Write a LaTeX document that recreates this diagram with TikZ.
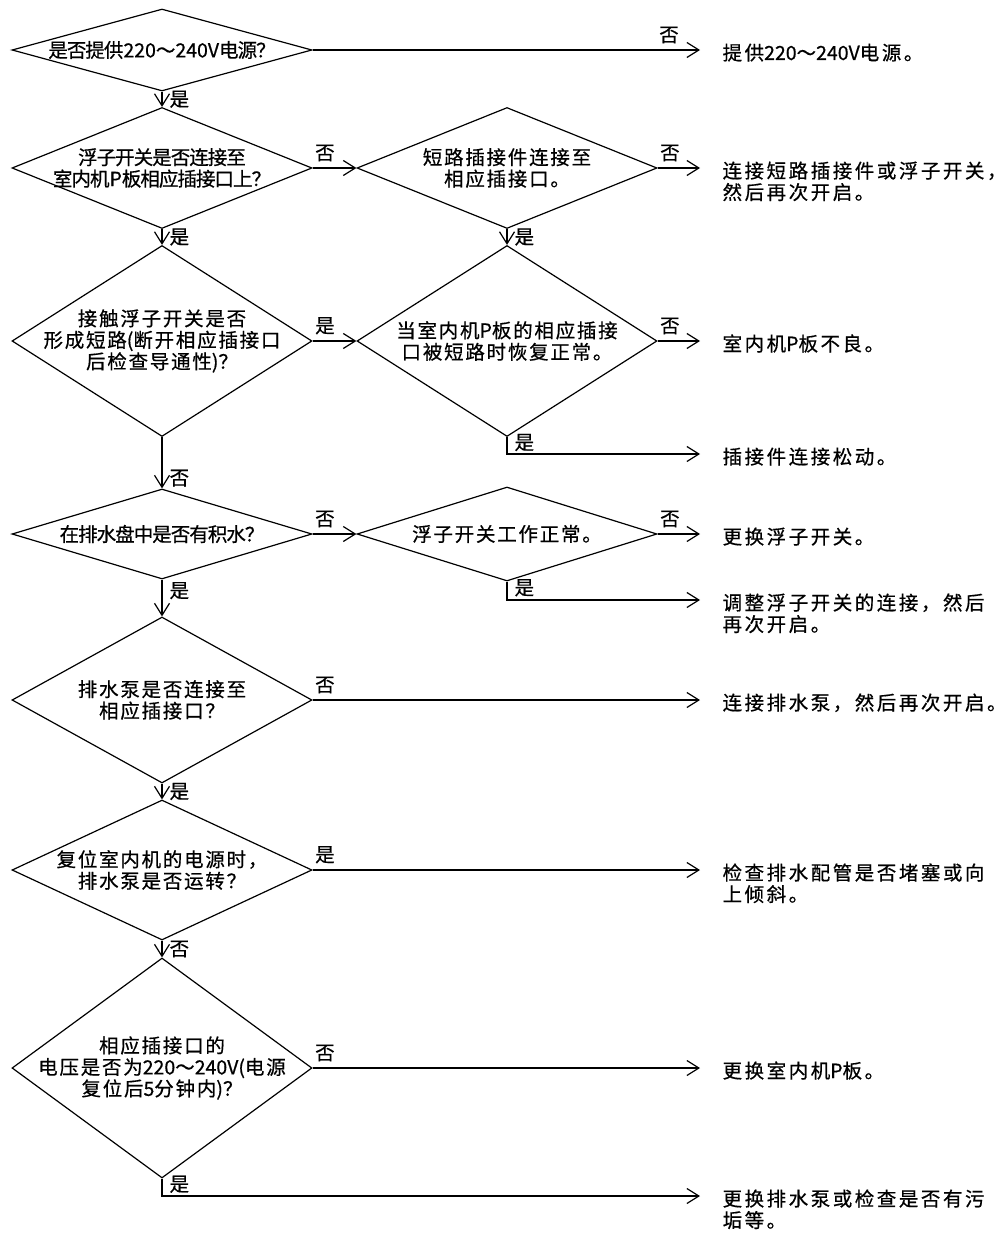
\documentclass[tikz,border=0pt]{standalone}
\usepackage{fontspec}
\setmainfont[FakeBold=0.6]{Noto Sans CJK SC}
\newfontfamily\cjkwide[LetterSpace=9,FakeBold=0.6]{Noto Sans CJK SC}
\newfontfamily\cjkwider[LetterSpace=13,FakeBold=0.6]{Noto Sans CJK SC}
\newfontfamily\cjknarrow[LetterSpace=-5,FakeBold=0.6]{Noto Sans CJK SC}
\newfontfamily\cjkplain[FakeBold=0.6]{Noto Sans CJK SC}
\newcommand\numtxt[1]{{\cjkplain#1}}
\usetikzlibrary{shapes.geometric,arrows.meta}
\tikzset{
  dia/.style={diamond, draw, inner sep=0pt, minimum width=300},
  qtext/.style={align=center, inner sep=0pt, font=\cjkwide\fontsize{19.5}{21.5}\selectfont},
  qnarrow/.style={qtext, font=\cjknarrow\fontsize{19.5}{21.5}\selectfont},
  res/.style={align=left, anchor=base west, inner sep=0pt, font=\cjkwider\fontsize{19.5}{21.5}\selectfont},
  yn/.style={inner sep=2pt, font=\fontsize{19.5}{21}\selectfont},
  hlab/.style={yn, above right, yshift=4pt},
  vlab/.style={yn, right, xshift=5pt},
  llab/.style={vlab, pos=0.25, yshift=3pt},
  flow/.style={-{Straight Barb[length=12pt,width=15pt]}},
}
\begin{document}
\begin{tikzpicture}[x=1pt, y=-1pt, line width=1.2pt]
  \useasboundingbox (0,0) rectangle (1005,1233);
  % decisions, left column
  \node[dia, minimum height=82, label={[qnarrow]center:{是否提供\numtxt{220～240V}电源？}}] (d1) at (162,50) {};
  \node[dia, minimum height=121, label={[qnarrow]center:{浮子开关是否连接至\\室内机\numtxt{P}板相应插接口上？}}] (d2) at (162,168) {};
  \node[dia, minimum height=191, label={[qtext]center:{接触浮子开关是否\\形成短路\numtxt{(}断开相应插接口\\后检查导通性\numtxt{)}？}}] (d5) at (162,341) {};
  \node[dia, minimum height=90, label={[qnarrow]center:{在排水盘中是否有积水？}}] (d6) at (162,534) {};
  \node[dia, minimum height=166, label={[qtext]center:{排水泵是否连接至\\相应插接口？}}] (d8) at (162,700) {};
  \node[dia, minimum height=140, label={[qtext]center:{复位室内机的电源时，\\排水泵是否运转？}}] (d9) at (162,870) {};
  \node[dia, minimum height=220, label={[qtext]center:{相应插接口的\\电压是否为\numtxt{220～240V(}电源\\复位后\numtxt{5}分钟内\numtxt{)}？}}] (d10) at (162,1068) {};
  % decisions, middle column
  \node[dia, minimum height=121, label={[qtext]center:{短路插接件连接至\\相应插接口。}}] (d3) at (507,168) {};
  \node[dia, minimum height=191, label={[qtext]center:{当室内机\numtxt{P}板的相应插接\\口被短路时恢复正常。}}] (d4) at (507,341) {};
  \node[dia, minimum height=94, label={[qtext]center:{浮子开关工作正常。}}] (d7) at (507,534) {};
  % arrow ends
  \coordinate (e1) at (700,50);
  \coordinate (e2) at (700,168);
  \coordinate (e3) at (700,341);
  \coordinate (e4) at (700,454);
  \coordinate (e5) at (700,534);
  \coordinate (e6) at (700,600);
  \coordinate (e7) at (700,700);
  \coordinate (e8) at (700,870);
  \coordinate (e9) at (700,1068);
  \coordinate (e10) at (700,1196);
  % results (base = last line)
  \node[res] (r1) at (722,60) {提供\numtxt{220～240V}电源。};
  \node[res] (r2) at (722,199.5) {连接短路插接件或浮子开关，\\然后再次开启。};
  \node[res] (r3) at (722,351) {室内机\numtxt{P}板不良。};
  \node[res] (r4) at (722,464) {插接件连接松动。};
  \node[res] (r5) at (722,544) {更换浮子开关。};
  \node[res] (r6) at (722,631.5) {调整浮子开关的连接，然后\\再次开启。};
  \node[res] (r7) at (722,710) {连接排水泵，然后再次开启。};
  \node[res] (r8) at (722,901.5) {检查排水配管是否堵塞或向\\上倾斜。};
  \node[res] (r9) at (722,1078) {更换室内机\numtxt{P}板。};
  \node[res] (r10) at (722,1227.5) {更换排水泵或检查是否有污\\垢等。};
  % connectors
  \draw[flow] (d1.east) -- node[yn, pos=0.92, above, yshift=4pt] {否} (e1);
  \draw[flow] (d1.south) -- node[vlab] {是} (d2.north);
  \draw[flow] (d2.east) -- node[hlab, at start] {否} (d3.west);
  \draw[flow] (d3.east) -- node[hlab, at start] {否} (e2);
  \draw[flow] (d2.south) -- node[vlab] {是} (d5.north);
  \draw[flow] (d3.south) -- node[vlab] {是} (d4.north);
  \draw[flow] (d5.east) -- node[hlab, at start] {是} (d4.west);
  \draw[flow] (d4.east) -- node[hlab, at start] {否} (e3);
  \draw[flow] (d4.south) |- node[llab] {是} (e4);
  \draw[flow] (d5.south) -- node[vlab, pos=0.8] {否} (d6.north);
  \draw[flow] (d6.east) -- node[hlab, at start] {否} (d7.west);
  \draw[flow] (d7.east) -- node[hlab, at start] {否} (e5);
  \draw[flow] (d7.south) |- node[llab] {是} (e6);
  \draw[flow] (d6.south) -- node[vlab, pos=0.3] {是} (d8.north);
  \draw[flow] (d8.east) -- node[hlab, at start] {否} (e7);
  \draw[flow] (d8.south) -- node[vlab] {是} (d9.north);
  \draw[flow] (d9.east) -- node[hlab, at start] {是} (e8);
  \draw[flow] (d9.south) -- node[vlab] {否} (d10.north);
  \draw[flow] (d10.east) -- node[hlab, at start] {否} (e9);
  \draw[flow] (d10.south) |- node[llab] {是} (e10);
\end{tikzpicture}
\end{document}
